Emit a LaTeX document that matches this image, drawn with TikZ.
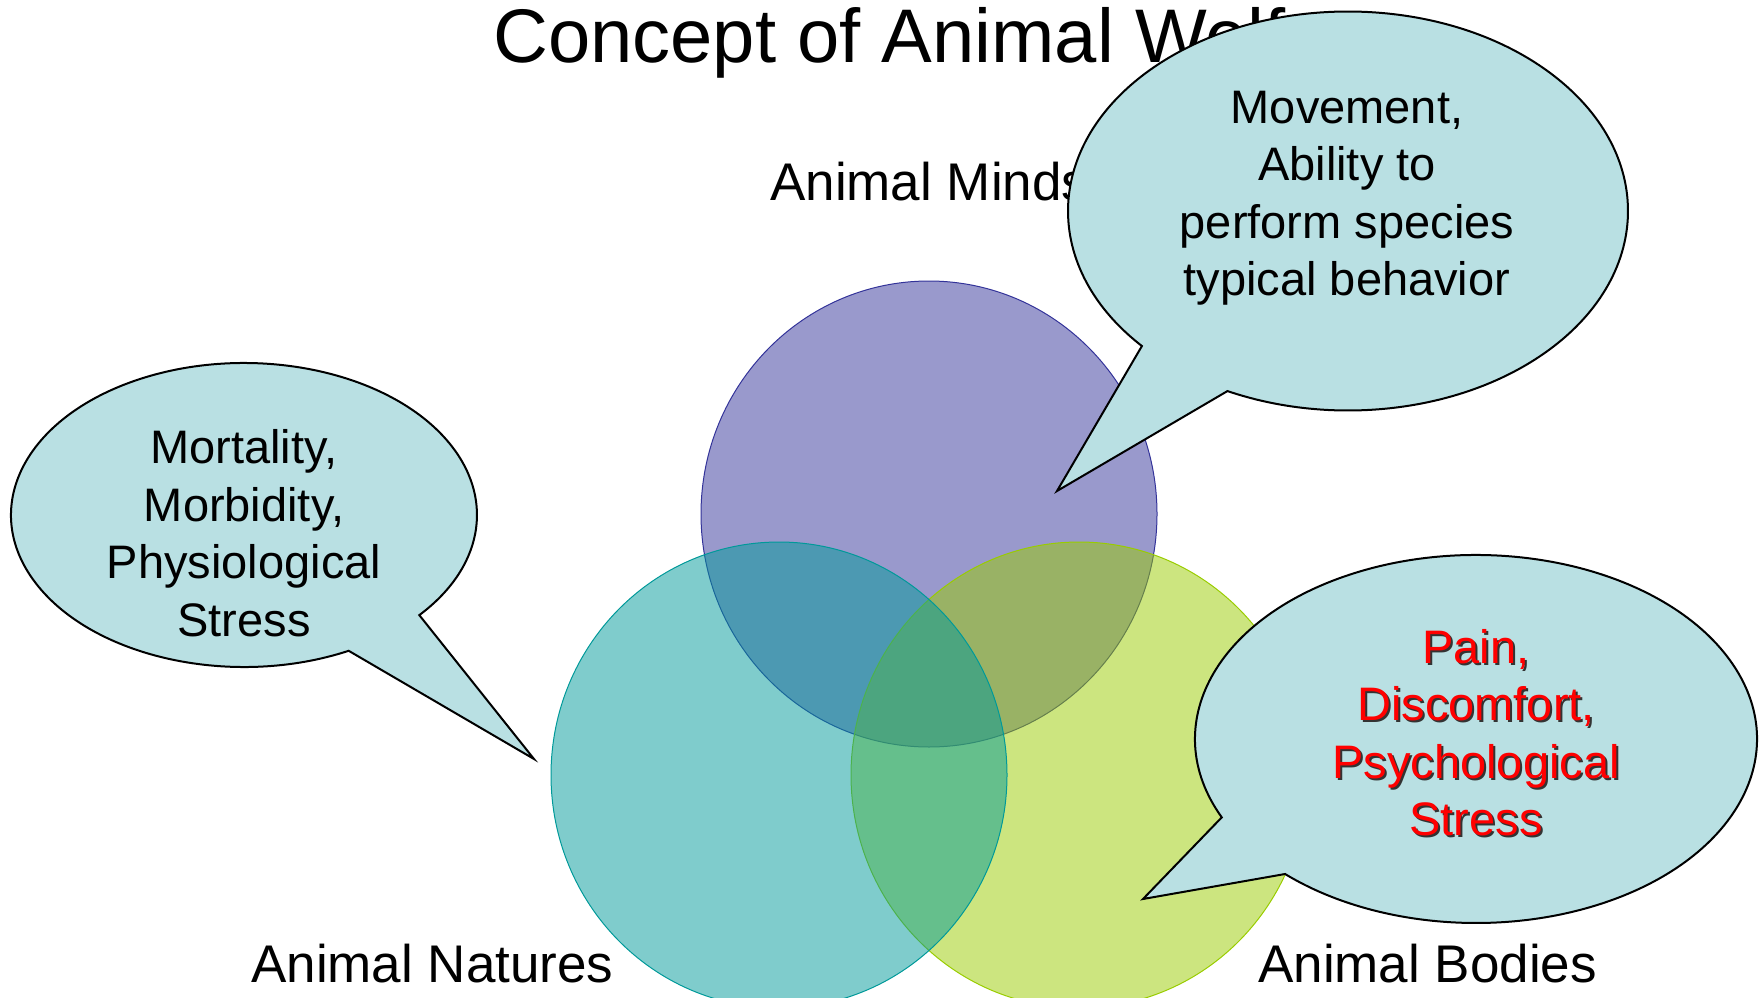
\documentclass[tikz,border=0pt]{standalone}
\usepackage{fontspec}
\setmainfont{Liberation Sans}
\definecolor{mindc}{HTML}{333399}
\definecolor{naturec}{HTML}{009999}
\definecolor{bodyc}{HTML}{99CC00}
\definecolor{bubblec}{RGB}{185,224,227}
\definecolor{redtxt}{HTML}{FF0000}
\begin{document}
\begin{tikzpicture}[x=1pt,y=-1pt,
  venn/.style={line width=1pt, fill opacity=0.5},
  bubble/.style={draw=black, line width=2pt, fill=bubblec, line join=miter},
  titletxt/.style={anchor=base west, inner sep=0pt, font=\fontsize{76}{91}\selectfont},
  setname/.style={anchor=base west, inner sep=0pt, font=\fontsize{53}{64}\selectfont},
  btxt/.style={anchor=center, inner sep=0pt, align=center, font=\fontsize{47}{57.5}\selectfont}
]
\useasboundingbox (0,0) rectangle (1762,998);

% title and set names
\node[titletxt] (title) at (493,63) {Concept of Animal Welfare};
\node[setname] (minds) at (770,200) {Animal Minds};
\node[setname] (natures) at (251,982) {Animal Natures};
\node[setname] (bodies) at (1258,982) {Animal Bodies};

% Venn circles
\coordinate (cm) at (929,514);
\coordinate (cb) at (1079,775);
\coordinate (cn) at (779,775);
\draw[venn, draw=mindc, fill=mindc] (cm) ellipse [x radius=228, y radius=233];
\draw[venn, draw=bodyc, fill=bodyc] (cb) ellipse [x radius=228, y radius=233];
\draw[venn, draw=naturec, fill=naturec] (cn) ellipse [x radius=228, y radius=233];

% left callout
\coordinate (lc) at (244,515);
\coordinate (ltip) at (534,759);
\draw[bubble] (lc) ++(63.3:233 and 152)
  arc[start angle=63.3, end angle=401.2, x radius=233, y radius=152]
  -- (ltip) -- cycle;
\node[btxt] (ltext) at (244,538.25) {\strut Mortality,\\ \strut Morbidity,\\ \strut Physiological\\ \strut Stress};

% top-right callout
\coordinate (tc) at (1348,211);
\coordinate (ttip) at (1057,491);
\draw[bubble] (tc) ++(137.4:280 and 199.5)
  arc[start angle=137.4, end angle=475.5, x radius=280, y radius=199.5]
  -- (ttip) -- cycle;
\node[btxt] (ttext) at (1347,197.75) {\strut Movement,\\ \strut Ability to\\ \strut perform species\\ \strut typical behavior};

% bottom-right callout
\coordinate (rc) at (1476,739);
\coordinate (rtip) at (1143,899);
\draw[bubble] (rc) ++(154.8:281 and 184)
  arc[start angle=154.8, end angle=492.8, x radius=281, y radius=184]
  -- (rtip) -- cycle;
\node[btxt, text=black!80] (rshadow) at (1478,739.75) {\strut Pain,\\ \strut Discomfort,\\ \strut Psychological\\ \strut Stress};
\node[btxt, text=redtxt] (rtext) at (1476,737.75) {\strut Pain,\\ \strut Discomfort,\\ \strut Psychological\\ \strut Stress};
\end{tikzpicture}
\end{document}
